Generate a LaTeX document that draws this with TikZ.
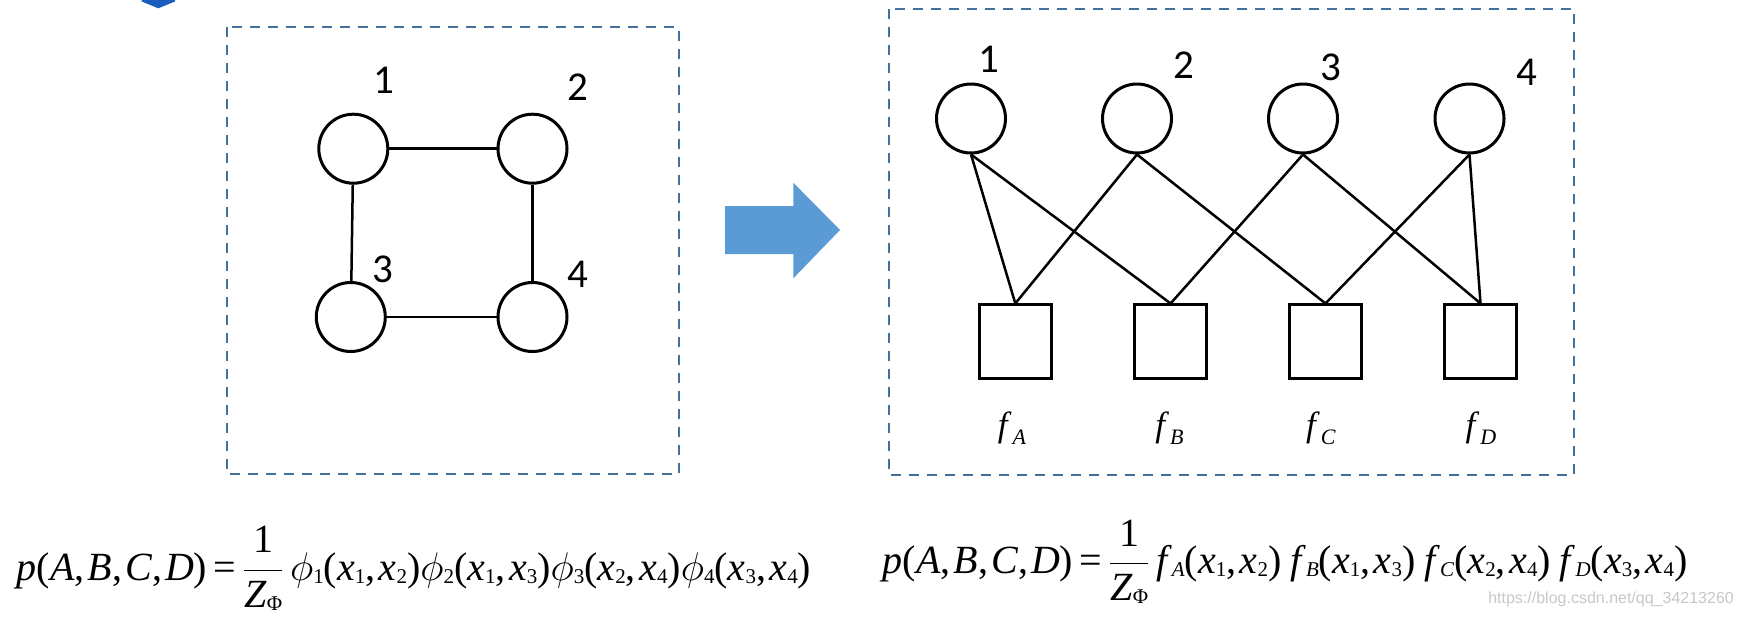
\RequirePackage{fix-cm}
\documentclass[tikz,border=0pt]{standalone}
\usepackage{fontspec}
\setmainfont{Liberation Serif}
\newfontfamily\digitfont{Carlito}
\newfontfamily\wmfont{Liberation Sans}
\definecolor{dashblue}{HTML}{41719C}
\definecolor{arrowblue}{HTML}{5B9BD5}
\definecolor{darkblue}{HTML}{1A5DBE}
\newcommand{\lo}[2][-3pt]{\raisebox{#1}{\fontsize{21}{21}\selectfont #2}}
\newcommand{\ph}[1]{$\phi$\lo{#1}}
\newcommand{\xx}[1]{\textit{x}\lo{#1}}
\newcommand{\ff}[1]{\textit{f}\lo{\textit{#1}}}
\newcommand{\cm}{,\hspace{3.4pt}}
\newcommand{\pc}{,\hspace{3pt}}
\newcommand{\gap}{\hspace{9pt}}
\newcommand{\fracZ}{$\displaystyle\frac{\mbox{1}}{\mbox{\textit{Z}\lo{Φ}}}$}
\begin{document}
\begin{tikzpicture}[x=1pt,y=-1pt,
 varnode/.style={circle,draw,line width=3pt,minimum size=69pt,inner sep=0pt},
 facnode/.style={rectangle,draw,line width=3pt,minimum width=71.5pt,minimum height=73.5pt,inner sep=0pt},
 edge/.style={line width=2.5pt},
 numlabel/.style={font=\digitfont\fontsize{41}{41}\selectfont,anchor=base,inner sep=0pt},
 flabel/.style={font=\fontsize{35}{35}\selectfont,anchor=base,inner sep=0pt},
 frame/.style={draw=dashblue,line width=2pt,dash pattern=on 10pt off 8pt},
 formula/.style={font=\fontsize{40}{48}\selectfont,anchor=base west,inner sep=0pt}]
\useasboundingbox (0,0) rectangle (1744,619);
% frames
\draw[frame] (226.7,27.3) rectangle (678.5,474);
\draw[frame] (888.8,9.3) rectangle (1574,475);
% top-left fragment
\fill[darkblue] (141.7,0) -- (175,0) -- (175,1.5) -- (158.3,8.3) -- (141.7,1.5) -- cycle;
% left graph
\node[varnode] (L1) at (353.3,148.7) {};
\node[varnode] (L2) at (532.5,148.7) {};
\node[varnode] (L3) at (350.8,317) {};
\node[varnode] (L4) at (532.5,317) {};
\draw[edge] (L1) -- (L2);
\draw[edge] (L1) -- (L3);
\draw[edge] (L2) -- (L4);
\draw[edge] (L3) -- (L4);
\node[numlabel] (l1) at (383.7,93.3) {1};
\node[numlabel] (l2) at (578.3,100) {2};
\node[numlabel] (l3) at (383.3,282.7) {3};
\node[numlabel] (l4) at (578.3,287.7) {4};
% arrow
\fill[arrowblue] (725,206) -- (793.3,206) -- (793.3,182.7) -- (840,230) -- (793.3,278.3) -- (793.3,254) -- (725,254) -- cycle;
% right graph
\node[varnode] (R1) at (971,118.5) {};
\node[varnode] (R2) at (1137,118.5) {};
\node[varnode] (R3) at (1303,118.5) {};
\node[varnode] (R4) at (1469.5,118.5) {};
\node[numlabel] (r1) at (988.8,72.7) {1};
\node[numlabel] (r2) at (1184.2,78.3) {2};
\node[numlabel] (r3) at (1331.2,80) {3};
\node[numlabel] (r4) at (1527,85) {4};
\node[facnode] (FA) at (1015.3,341.7) {};
\node[facnode] (FB) at (1170.6,341.7) {};
\node[facnode] (FC) at (1325.5,341.7) {};
\node[facnode] (FD) at (1480.5,341.7) {};
\draw[edge] (R1.south) -- (FA.north);
\draw[edge] (R1.south) -- (FB.north);
\draw[edge] (R2.south) -- (FA.north);
\draw[edge] (R2.south) -- (FC.north);
\draw[edge] (R3.south) -- (FB.north);
\draw[edge] (R3.south) -- (FD.north);
\draw[edge] (R4.south) -- (FC.north);
\draw[edge] (R4.south) -- (FD.north);
\node[flabel] (tA) at (1012,436) {\textit{f}\hspace{1pt}\lo[-8pt]{\fontsize{22}{22}\selectfont\textit{A}}};
\node[flabel] (tB) at (1169.5,436) {\textit{f}\hspace{1pt}\lo[-8pt]{\fontsize{22}{22}\selectfont\textit{B}}};
\node[flabel] (tC) at (1321,436) {\textit{f}\hspace{1pt}\lo[-8pt]{\fontsize{22}{22}\selectfont\textit{C}}};
\node[flabel] (tD) at (1481,436) {\textit{f}\hspace{1pt}\lo[-8pt]{\fontsize{22}{22}\selectfont\textit{D}}};
% formulas
\node[formula] (eqL) at (16.5,580) {\textit{p}(\textit{A}\pc\textit{B}\pc\textit{C}\pc\textit{D})\,=\,\fracZ\,\ph1(\xx1\cm\xx2)\ph2(\xx1\cm\xx3)\ph3(\xx2\cm\xx4)\ph4(\xx3\cm\xx4)};
\node[formula] (eqR) at (882.5,573.3) {\textit{p}(\textit{A}\pc\textit{B}\pc\textit{C}\pc\textit{D})\,=\,\fracZ\,\ff{A}(\xx1\cm\xx2)\gap\ff{B}(\xx1\cm\xx3)\gap\ff{C}(\xx2\cm\xx4)\gap\ff{D}(\xx3\cm\xx4)};
% watermark
\node[font=\wmfont\fontsize{16}{16}\selectfont,text=black!22,anchor=base east,inner sep=0pt] (wm) at (1734,603) {https://blog.csdn.net/qq\_34213260};
\end{tikzpicture}
\end{document}
